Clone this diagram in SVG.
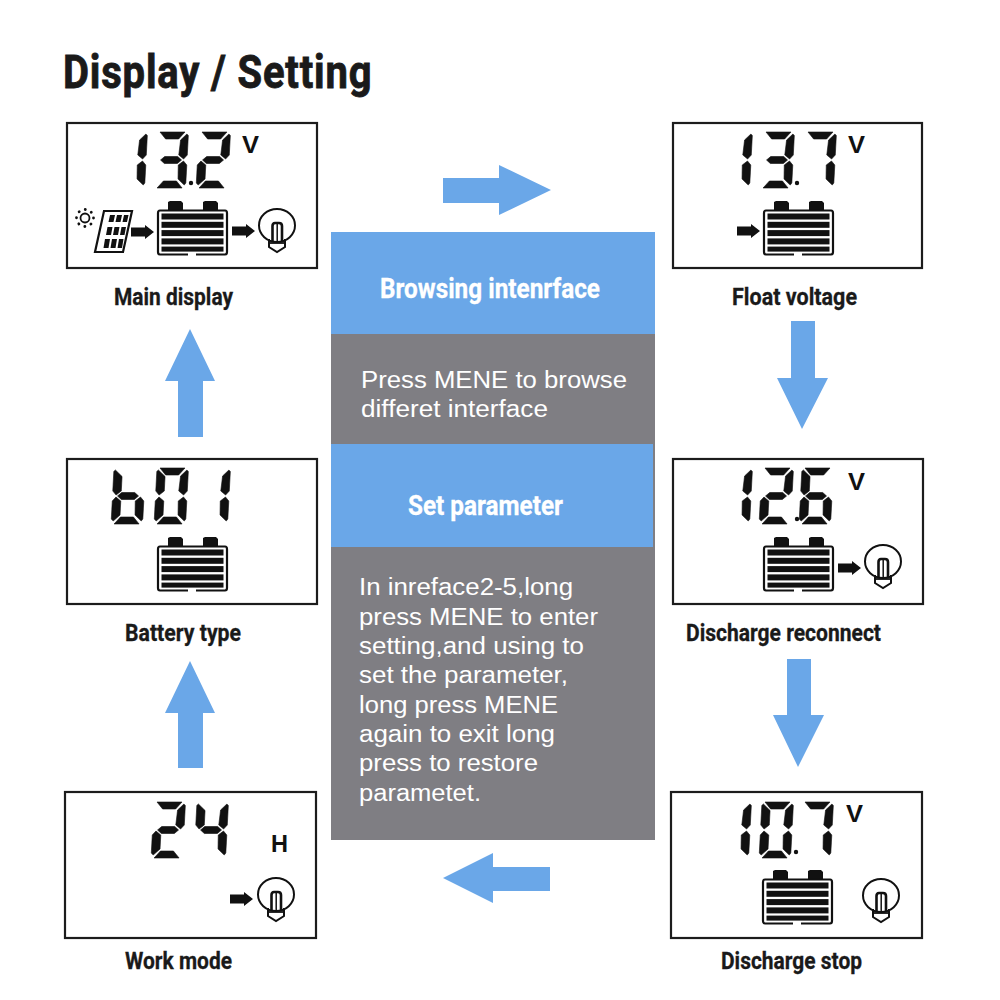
<svg xmlns="http://www.w3.org/2000/svg" width="1000" height="1000" viewBox="0 0 1000 1000">
<style>
.lcd{fill:#fff;stroke:#1c1c1c;stroke-width:2.2}
.k{fill:#111}
.dg{fill:#111;stroke:#111;stroke-width:.6;stroke-linejoin:round}
.blue{fill:#6aa7e8}
.gray{fill:#7f7e83}
.title{font-family:Roboto,"Liberation Sans",sans-serif;font-weight:700;font-size:47px;fill:#1a1a1a;stroke:#1a1a1a;stroke-width:.9}
.label{font-family:Roboto,"Liberation Sans",sans-serif;font-weight:700;font-size:24px;fill:#1a1a1a;stroke:#1a1a1a;stroke-width:.3}
.head{font-family:Roboto,"Liberation Sans",sans-serif;font-weight:700;font-size:27.500px;fill:#fff;stroke:#fff;stroke-width:.3}
.body{font-family:"Liberation Sans",Arial,sans-serif;font-size:23.500px;fill:#fff}
.unit{font-family:"Liberation Sans",Arial,sans-serif;font-weight:700;font-size:23px;fill:#111}
</style>
<defs>
<polygon id="sa" points="3,0 28,0 22,7 9,7"/>
<polygon id="sb" points="24,8 30,2 31.500,3.500 31.500,23 28,27 23,23"/>
<polygon id="sc" points="23,33 28,29 31.500,33 31.500,51 30,53 23.500,47"/>
<polygon id="sd" points="9,49 22,49 28,56 3,56"/>
<polygon id="se" points="0,33 3.500,29 8.500,33 8.500,47 2,53 0,51"/>
<polygon id="sf" points="0,3.500 1.500,2 8.500,8.500 8.500,23 3.500,27 0,23"/>
<polygon id="sg" points="9,24.500 22,24.500 26,28 22,31.500 9,31.500 5,28"/>
<g id="d0" class="dg" transform="skewX(-3)"><use href="#sa"/><use href="#sb"/><use href="#sc"/><use href="#sd"/><use href="#se"/><use href="#sf"/></g>
<g id="d1" class="dg" transform="skewX(-3)"><use href="#sb"/><use href="#sc"/></g>
<g id="d2" class="dg" transform="skewX(-3)"><use href="#sa"/><use href="#sb"/><use href="#sg"/><use href="#se"/><use href="#sd"/></g>
<g id="d3" class="dg" transform="skewX(-3)"><use href="#sa"/><use href="#sb"/><use href="#sg"/><use href="#sc"/><use href="#sd"/></g>
<g id="d4" class="dg" transform="skewX(-3)"><use href="#sf"/><use href="#sg"/><use href="#sb"/><use href="#sc"/></g>
<g id="d6" class="dg" transform="skewX(-3)"><use href="#sa"/><use href="#sf"/><use href="#sg"/><use href="#se"/><use href="#sc"/><use href="#sd"/></g>
<g id="d7" class="dg" transform="skewX(-3)"><use href="#sa"/><use href="#sb"/><use href="#sc"/></g>
<g id="db" class="dg" transform="skewX(-3)"><use href="#sf"/><use href="#sg"/><use href="#se"/><use href="#sc"/><use href="#sd"/></g>
<g id="battery">
<polygon class="k" points="11,10 11,1 13,0 24,0 26,2 26,10"/><polygon class="k" points="46,10 46,1 48,0 59,0 61,2 61,10"/>
<path d="M31,53.500H3Q1,53.500 1,51V12Q1,9.500 3,9.500H68Q70,9.500 70,12V51Q70,53.500 68,53.500H39" fill="#fff" stroke="#111" stroke-width="2.200"/>
<rect x="4.500" y="12.500" width="62" height="6" class="k"/><rect x="4.500" y="20.800" width="62" height="6" class="k"/><rect x="4.500" y="29.100" width="62" height="6" class="k"/><rect x="4.500" y="37.400" width="62" height="6" class="k"/><rect x="4.500" y="45.600" width="62" height="5" class="k"/>
</g>
<g id="bulb">
<path d="M11,31V39L19,44L27,39V31" fill="#fff" stroke="#111" stroke-width="2"/>
<ellipse cx="19" cy="17.500" rx="18" ry="16.500" fill="#fff" stroke="#111" stroke-width="2"/>
<path d="M10,35H28" stroke="#111" stroke-width="1.800"/>
<path d="M11,31V38M27,31V38" stroke="#111" stroke-width="2"/>
<path d="M14.500,34V18Q14.500,15 17,15H21Q24,15 24,18V34" fill="none" stroke="#111" stroke-width="2.600"/>
<path d="M19.200,16V34" stroke="#111" stroke-width="1.500"/>
</g>
<polygon id="mini" points="0,2.500 14,2.500 14,0 23,7 14,14 14,11.500 0,11.500"/>
</defs>
<rect width="1000" height="1000" fill="#fff"/>
<text class="title" transform="translate(63,88) scale(.85,1)" x="0" y="0" textLength="363" lengthAdjust="spacing">Display / Setting</text>

<g id="connectors" class="blue">
<polygon points="443,178 499,178 499,165 551,190 499,215 499,203 443,203"/>
<polygon points="550,867 493,867 493,853 443,878 493,903 493,891 550,891"/>
<polygon points="178,437 178,381 165,381 190,329 215,381 203,381 203,437"/>
<polygon points="178,768 178,713 165,713 190,661 215,713 203,713 203,768"/>
<polygon points="791,321 815,321 815,378 828,378 802,429 777,378 791,378"/>
<polygon points="787,659 811,659 811,715 824,715 798,767 773,715 787,715"/>
</g>

<g id="panel-browsing">
<rect class="blue" x="331" y="232" width="324" height="102"/>
<rect class="gray" x="331" y="334" width="324" height="110"/>
<text class="head" x="380" y="298" textLength="220" lengthAdjust="spacingAndGlyphs">Browsing intenrface</text>
<text class="body" x="361" y="388" textLength="266" lengthAdjust="spacingAndGlyphs">Press MENE to browse</text>
<text class="body" x="361" y="417" textLength="187" lengthAdjust="spacingAndGlyphs">differet interface</text>
</g>
<g id="panel-setting">
<rect class="gray" x="331" y="444" width="324" height="396"/>
<rect class="blue" x="331" y="444" width="322" height="103"/>
<text class="head" x="408" y="515" textLength="155" lengthAdjust="spacingAndGlyphs">Set parameter</text>
<text class="body" x="359" y="595" textLength="214" lengthAdjust="spacingAndGlyphs">In inreface2-5,long</text>
<text class="body" x="359" y="625" textLength="239" lengthAdjust="spacingAndGlyphs">press MENE to enter</text>
<text class="body" x="359" y="654" textLength="225" lengthAdjust="spacingAndGlyphs">setting,and using to</text>
<text class="body" x="359" y="683" textLength="209" lengthAdjust="spacingAndGlyphs">set the parameter,</text>
<text class="body" x="359" y="713" textLength="199" lengthAdjust="spacingAndGlyphs">long press MENE</text>
<text class="body" x="359" y="742" textLength="196" lengthAdjust="spacingAndGlyphs">again to exit long</text>
<text class="body" x="359" y="771" textLength="179" lengthAdjust="spacingAndGlyphs">press to restore</text>
<text class="body" x="359" y="801" textLength="122" lengthAdjust="spacingAndGlyphs">parametet.</text>
</g>

<g id="main-display">
<rect class="lcd" x="67" y="123" width="250" height="145"/>
<use href="#d1" x="116" y="132"/><use href="#d3" x="157" y="132"/><use href="#d2" x="199" y="132"/>
<circle class="k" cx="191" cy="183" r="2.200"/>
<text class="unit" x="242" y="153" textLength="17" lengthAdjust="spacingAndGlyphs">V</text>
<g fill="none" stroke="#111">
<circle cx="85" cy="218" r="4.500" stroke-width="1.800"/>
<circle cx="85" cy="218" r="8.500" stroke-width="2.800" stroke-dasharray="0.100 6.576" stroke-linecap="round"/>
</g>
<polygon points="104,211 132,211 123,252 95,252" fill="#fff" stroke="#111" stroke-width="2.200"/>
<g class="k">
<polygon points="110,215 115,215 113.500,222 108.500,222"/><polygon points="117,215 122,215 120.500,222 115.500,222"/><polygon points="124,215 128.500,215 127,222 122.500,222"/>
<polygon points="107.500,227 112.500,227 111,235 106,235"/><polygon points="114.500,227 119.500,227 118,235 113,235"/><polygon points="121.500,227 126,227 124.500,235 120,235"/>
<polygon points="105,239 110,239 108.500,248 103.500,248"/><polygon points="112,239 117,239 115.500,248 110.500,248"/><polygon points="119,239 123.500,239 122,248 117.500,248"/>
</g>
<use href="#mini" class="k" x="131" y="225"/>
<use href="#battery" x="157" y="201"/>
<use href="#mini" class="k" x="232" y="224"/>
<use href="#bulb" x="258" y="208"/>
<text class="label" x="114" y="305" textLength="119" lengthAdjust="spacingAndGlyphs">Main display</text>
</g>

<g id="battery-type">
<rect class="lcd" x="67" y="459" width="250" height="145"/>
<use href="#db" x="114" y="468"/><use href="#d0" x="157" y="468"/><use href="#d1" x="199" y="468"/>
<use href="#battery" x="157" y="537"/>
<text class="label" x="125" y="641" textLength="116" lengthAdjust="spacingAndGlyphs">Battery type</text>
</g>

<g id="work-mode">
<rect class="lcd" x="65" y="792" width="251" height="146"/>
<use href="#d2" x="154" y="802"/><use href="#d4" x="197" y="802"/>
<text class="unit" x="271" y="852" textLength="17" lengthAdjust="spacingAndGlyphs">H</text>
<use href="#mini" class="k" x="230" y="892"/>
<use href="#bulb" x="257" y="877"/>
<text class="label" x="125" y="969" textLength="107" lengthAdjust="spacingAndGlyphs">Work mode</text>
</g>

<g id="float-voltage">
<rect class="lcd" x="673" y="123" width="249" height="145"/>
<use href="#d1" x="721" y="132"/><use href="#d3" x="763" y="132"/><use href="#d7" x="805" y="132"/>
<circle class="k" cx="797" cy="183" r="2.200"/>
<text class="unit" x="848" y="153" textLength="17" lengthAdjust="spacingAndGlyphs">V</text>
<use href="#mini" class="k" x="737" y="224"/>
<use href="#battery" x="763" y="201"/>
<text class="label" x="732" y="305" textLength="125" lengthAdjust="spacingAndGlyphs">Float voltage</text>
</g>

<g id="discharge-reconnect">
<rect class="lcd" x="673" y="459" width="250" height="145"/>
<use href="#d1" x="721" y="468"/><use href="#d2" x="762" y="468"/><use href="#d6" x="802" y="468"/>
<circle class="k" cx="797" cy="519" r="2.200"/>
<text class="unit" x="848" y="490" textLength="17" lengthAdjust="spacingAndGlyphs">V</text>
<use href="#battery" x="763" y="537"/>
<use href="#mini" class="k" x="838" y="561"/>
<use href="#bulb" x="864" y="544"/>
<text class="label" x="686" y="641" textLength="195" lengthAdjust="spacingAndGlyphs">Discharge reconnect</text>
</g>

<g id="discharge-stop">
<rect class="lcd" x="671" y="792" width="251" height="146"/>
<use href="#d1" x="720" y="802"/><use href="#d0" x="762" y="802"/><use href="#d7" x="802" y="802"/>
<circle class="k" cx="796" cy="852" r="2.200"/>
<text class="unit" x="846" y="822" textLength="17" lengthAdjust="spacingAndGlyphs">V</text>
<use href="#battery" x="762" y="870"/>
<use href="#bulb" x="862" y="878"/>
<text class="label" x="721" y="969" textLength="141" lengthAdjust="spacingAndGlyphs">Discharge stop</text>
</g>
</svg>
